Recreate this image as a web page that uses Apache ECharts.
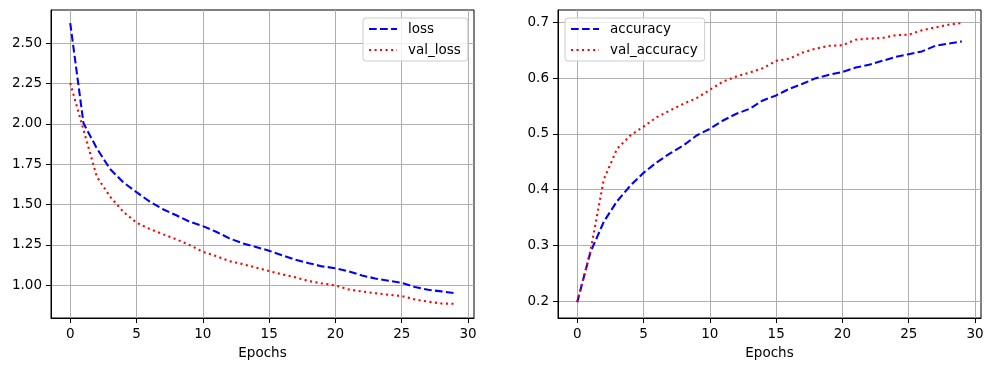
<!DOCTYPE html>
<html>
<head>
<meta charset="utf-8">
<script src="https://cdn.jsdelivr.net/npm/echarts@6/dist/echarts.min.js"></script>
<style>
html,body{margin:0;padding:0;background:#fff;}
#chart{width:993px;height:371px;}
</style>
</head>
<body>
<div id="chart"></div>
<script>
const epochs = [0,1,2,3,4,5,6,7,8,9,10,11,12,13,14,15,16,17,18,19,20,21,22,23,24,25,26,27,28,29];
const loss = [2.625,2.004,1.849,1.72,1.638,1.576,1.518,1.47,1.433,1.393,1.366,1.331,1.29,1.259,1.237,1.213,1.184,1.157,1.136,1.116,1.105,1.085,1.06,1.041,1.027,1.014,0.988,0.971,0.961,0.95];
const valLoss = [2.253,1.963,1.673,1.549,1.455,1.387,1.348,1.315,1.284,1.248,1.207,1.18,1.149,1.13,1.109,1.087,1.066,1.048,1.025,1.01,0.998,0.973,0.961,0.95,0.94,0.932,0.911,0.897,0.886,0.884];
const accuracy = [0.198,0.288,0.342,0.379,0.407,0.43,0.449,0.465,0.479,0.497,0.509,0.524,0.536,0.545,0.56,0.569,0.581,0.59,0.6,0.606,0.611,0.619,0.624,0.631,0.638,0.643,0.648,0.658,0.662,0.666];
const valAccuracy = [0.198,0.29,0.418,0.473,0.497,0.513,0.53,0.542,0.554,0.564,0.579,0.594,0.603,0.61,0.618,0.631,0.635,0.646,0.653,0.658,0.659,0.669,0.671,0.672,0.677,0.678,0.686,0.691,0.696,0.699];
const xTicks = [0,5,10,15,20,25,30];
const lossTicks = [1.00,1.25,1.50,1.75,2.00,2.25,2.50];
const accTicks = [0.2,0.3,0.4,0.5,0.6,0.7];

const FONT = 'DejaVu Sans';
const pairs = (ys) => epochs.map((e, i) => [e, ys[i]]);
const dashStyle = [7.7, 3.3];
const dotStyle = [2.08, 3.44];

function xAxis(gi) {
  return {
    gridIndex: gi, type: 'value', min: -1.45, max: 30.45,
    name: 'Epochs', nameLocation: 'middle', nameGap: 28,
    nameTextStyle: {fontFamily: FONT, fontSize: 13.5, color: '#000'},
    axisLine: {show: true, onZero: false, lineStyle: {color: '#000', width: 1}},
    axisTick: {show: true, customValues: xTicks, length: 5, lineStyle: {color: '#000', width: 1}},
    axisLabel: {customValues: xTicks, margin: 9, fontFamily: FONT, fontSize: 13.5, color: '#000'},
    splitLine: {show: true, lineStyle: {color: '#b0b0b0', width: 1}}
  };
}
function yAxis(gi, min, max, ticks, dec) {
  return {
    gridIndex: gi, type: 'value', min: min, max: max,
    axisLine: {show: true, onZero: false, lineStyle: {color: '#000', width: 1}},
    axisTick: {show: true, customValues: ticks, length: 5, lineStyle: {color: '#000', width: 1}},
    axisLabel: {customValues: ticks, margin: 9, fontFamily: FONT, fontSize: 13.5, color: '#000',
      formatter: (v) => Number(v).toFixed(dec)},
    splitLine: {show: true, lineStyle: {color: '#b0b0b0', width: 1}}
  };
}
function series(name, data, gi, color, type) {
  return {
    name: name, type: 'line', xAxisIndex: gi, yAxisIndex: gi,
    data: pairs(data), symbol: 'none', showSymbol: false,
    lineStyle: {color: color, width: 2.08, type: type, cap: 'butt'},
    itemStyle: {color: color},
    emphasis: {disabled: true}
  };
}
function legend(names, left, top) {
  return {
    data: names, orient: 'vertical', left: left, top: top,
    itemWidth: 28, itemHeight: 14, itemGap: 7,
    padding: [4, 7, 4, 5],
    backgroundColor: 'rgba(255,255,255,0.8)', borderColor: '#cccccc', borderWidth: 1, borderRadius: 3,
    itemStyle: {opacity: 0, color: 'rgba(0,0,0,0)', borderWidth: 0},
    textStyle: {fontFamily: FONT, fontSize: 13.5, color: '#000', padding: [0, 0, 0, 6]},
    selectedMode: false
  };
}

const chart = echarts.init(document.getElementById('chart'), null, {renderer: 'canvas'});
chart.setOption({
  animation: false,
  backgroundColor: '#fff',
  grid: [
    {left: 51, top: 10, width: 423, height: 308, show: true, borderColor: '#000', borderWidth: 1, backgroundColor: 'transparent'},
    {left: 558, top: 10, width: 423, height: 308, show: true, borderColor: '#000', borderWidth: 1, backgroundColor: 'transparent'}
  ],
  xAxis: [xAxis(0), xAxis(1)],
  yAxis: [yAxis(0, 0.796, 2.706, lossTicks, 2), yAxis(1, 0.1695, 0.7223, accTicks, 1)],
  legend: [legend(['loss', 'val_loss'], 363, 18), legend(['accuracy', 'val_accuracy'], 565, 18)],
  series: [
    series('loss', loss, 0, '#0000ff', dashStyle),
    series('val_loss', valLoss, 0, '#ff0000', dotStyle),
    series('accuracy', accuracy, 1, '#0000ff', dashStyle),
    series('val_accuracy', valAccuracy, 1, '#ff0000', dotStyle)
  ]
});
</script>
</body>
</html>
